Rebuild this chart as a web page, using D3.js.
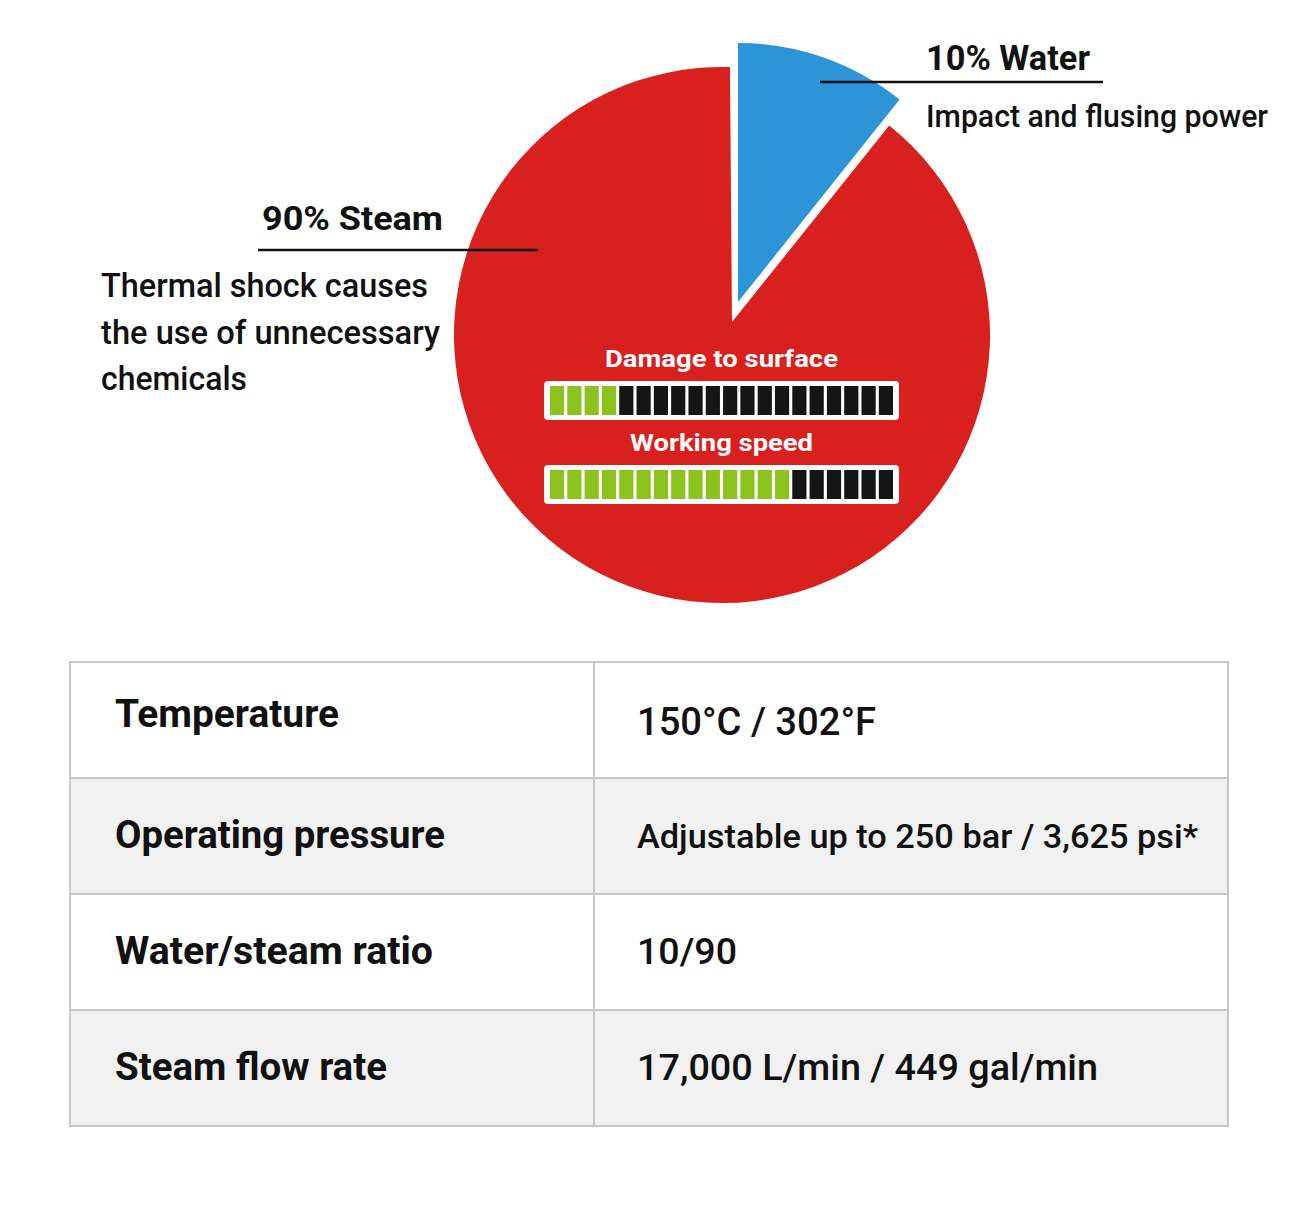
<!DOCTYPE html>
<html><head><meta charset="utf-8">
<script src="https://cdn.jsdelivr.net/npm/d3@7"></script>
<style>
html,body{margin:0;padding:0;background:#fff;}
svg{display:block;}
text{font-family:Roboto,"Noto Sans",sans-serif;}
</style></head>
<body>
<svg id="c" width="1301" height="1209"></svg>
<script>
// ---- data ----
const sliceLabels = ["Water", "Steam"];
const sliceValues = [10, 90];
const sliceTitles = ["10% Water", "90% Steam"];
const sliceNotes = [["Impact and flusing power"], ["Thermal shock causes", "the use of unnecessary", "chemicals"]];

const gaugeLabels = ["Damage to surface", "Working speed"];
const gaugeValues = [4, 14];
const gaugeTotal = 20;

const rowLabels = ["Temperature", "Operating pressure", "Water/steam ratio", "Steam flow rate"];
const rowValues = ["150°C / 302°F", "Adjustable up to 250 bar / 3,625 psi*", "10/90", "17,000 L/min / 449 gal/min"];

// ---- styles ----
const sliceColors = ["#2d94d7", "#d8201f"];
const svg = d3.select("#c");
const cx = 722, cy = 335, R = 268;
const deg = Math.PI / 180;

function addText(sel, x, y, str, size, weight, width, anchor, fill) {
  return sel.append("text").attr("x", x).attr("y", y)
    .attr("font-size", size).attr("font-weight", weight)
    .attr("text-anchor", anchor || "start")
    .attr("fill", fill || "#111")
    .attr("textLength", width).attr("lengthAdjust", "spacingAndGlyphs")
    .text(str);
}

// ---- pie ----
const pie = d3.pie().sort(null).value(d => d)(sliceValues);
// drawing tweaks per slice: apex offset from centre, radius, angle adjustments
const sliceDraw = [
  { apex: [16, -33], arcCenterAtApex: true, r: R - 9, a0: 0, a1: 2.6 * deg },
  { apex: [10, -13], arcCenterAtApex: false, r: R, a0: 2.6 * deg, a1: 1.7 * deg }
];
svg.append("g").selectAll("path").data(pie).join("path")
  .attr("fill", (d, i) => sliceColors[i])
  .attr("d", (d, i) => {
    const s = sliceDraw[i];
    const ax = cx + s.apex[0], ay = cy + s.apex[1];
    const ox = s.arcCenterAtApex ? ax : cx, oy = s.arcCenterAtApex ? ay : cy;
    const p = d3.path();
    p.moveTo(ax, ay);
    p.arc(ox, oy, s.r, d.startAngle + s.a0 - Math.PI / 2, d.endAngle + s.a1 - Math.PI / 2);
    p.closePath();
    return p.toString();
  });

// ---- labels ----
const lab = svg.append("g");
addText(lab, 926, 70, sliceTitles[0], 35, 700, 164);
lab.append("line").attr("x1", 820).attr("x2", 1103).attr("y1", 82).attr("y2", 82).attr("stroke", "#111").attr("stroke-width", 2.5);
addText(lab, 926, 127, sliceNotes[0][0], 32, 500, 342);

addText(lab, 262, 230, sliceTitles[1], 34, 700, 181);
lab.append("line").attr("x1", 258).attr("x2", 538).attr("y1", 250).attr("y2", 250).attr("stroke", "#111").attr("stroke-width", 2.5);
const noteW = [327, 339, 146];
sliceNotes[1].forEach((t, i) => addText(lab, 101, 297 + i * 46.5, t, 33, 500, noteW[i]));

// ---- gauges ----
const gx0 = 544, gx1 = 899, gh = 39;
const gaugeY = [381, 465];
const gaugeLabelW = [233, 183];
const seg = d3.scaleBand().domain(d3.range(gaugeTotal)).range([gx0 + 6, gx1 - 6]).paddingInner(0.18);
gaugeLabels.forEach((lbl, k) => {
  addText(svg, (gx0 + gx1) / 2, gaugeY[k] - 14, lbl, 24, 700, gaugeLabelW[k], "middle", "#fff");
  svg.append("rect").attr("x", gx0).attr("y", gaugeY[k]).attr("width", gx1 - gx0).attr("height", gh)
    .attr("rx", 4).attr("fill", "#fff");
  svg.append("g").selectAll("rect").data(d3.range(gaugeTotal)).join("rect")
    .attr("x", d => seg(d)).attr("y", gaugeY[k] + 5)
    .attr("width", seg.bandwidth()).attr("height", gh - 10)
    .attr("fill", d => d < gaugeValues[k] ? "#8cc21e" : "#151515");
});

// ---- table ----
const tx0 = 70, tx1 = 1228, tcol = 594, ty0 = 662, ty1 = 1126;
const rowY = d3.scaleBand().domain(d3.range(rowLabels.length)).range([ty0, ty1]);
const tb = svg.append("g");
tb.selectAll("rect.bg").data(rowLabels).join("rect")
  .attr("x", tx0).attr("y", (d, i) => rowY(i)).attr("width", tx1 - tx0).attr("height", rowY.bandwidth())
  .attr("fill", (d, i) => i % 2 ? "#f1f1f1" : "#fff");
tb.selectAll("line.h").data(d3.range(1, rowLabels.length)).join("line")
  .attr("x1", tx0).attr("x2", tx1).attr("y1", d => rowY(d)).attr("y2", d => rowY(d))
  .attr("stroke", "#c8c8c8").attr("stroke-width", 2);
tb.append("line").attr("x1", tcol).attr("x2", tcol).attr("y1", ty0).attr("y2", ty1).attr("stroke", "#c8c8c8").attr("stroke-width", 2);
tb.append("rect").attr("x", tx0).attr("y", ty0).attr("width", tx1 - tx0).attr("height", ty1 - ty0)
  .attr("fill", "none").attr("stroke", "#c8c8c8").attr("stroke-width", 2);

const labelW = [224, 330, 318, 272];
const labelDy = [-5, 0, 0, 0];
const valueW = [239, 561, 100, 461];
const valueSize = [39, 32.5, 37, 37];
const valueDy = [3, 0, 0, 0];
rowLabels.forEach((t, i) => addText(tb, 115, rowY(i) + 70 + labelDy[i], t, 38.5, 700, labelW[i]));
rowValues.forEach((t, i) => addText(tb, 637, rowY(i) + 70 + valueDy[i], t, valueSize[i], 500, valueW[i]));
</script>
</body></html>
